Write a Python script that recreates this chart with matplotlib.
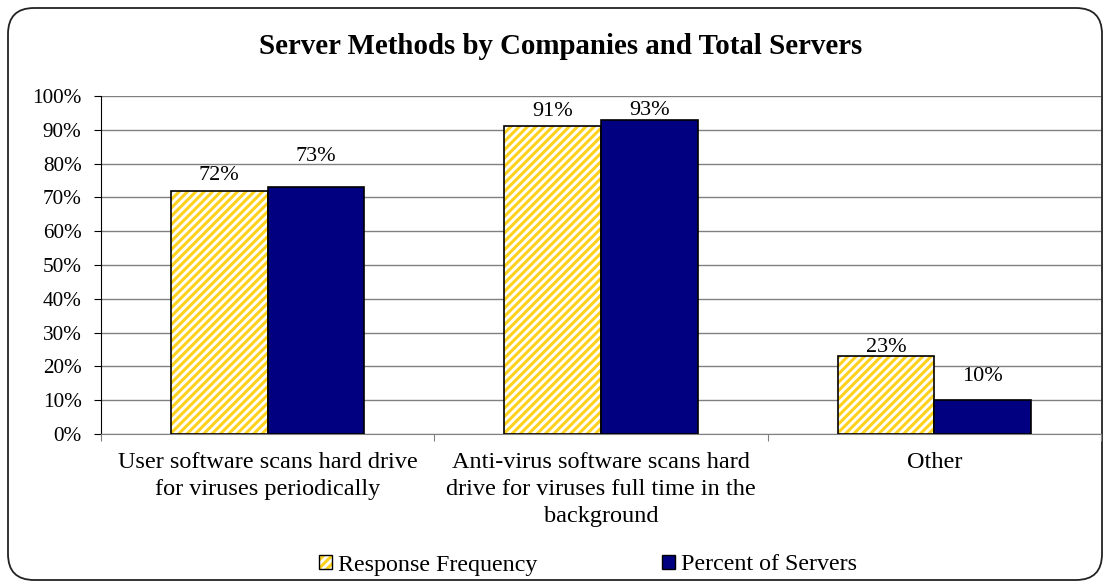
import matplotlib
matplotlib.use("Agg")
import matplotlib.pyplot as plt
import numpy as np
from matplotlib.patches import FancyBboxPatch, Patch
from matplotlib.transforms import IdentityTransform

categories = [
    "User software scans hard drive\nfor viruses periodically",
    "Anti-virus software scans hard\ndrive for viruses full time in the\nbackground",
    "Other",
]
response_freq = [72, 91, 23]
percent_servers = [73, 93, 10]
series_names = ["Response Frequency", "Percent of Servers"]
y_ticks = list(range(0, 101, 10))

# how far above each bar top its value label sits (percentage points)
freq_label_lift = [4.6, 4.3, 2.7]
servers_label_lift = [9.0, 2.6, 6.9]

plt.rcParams["font.family"] = ["Liberation Serif", "DejaVu Serif"]
plt.rcParams["hatch.linewidth"] = 2.0

GOLD = "#FFD21F"
NAVY = "#000080"

fig = plt.figure(figsize=(11.1, 5.87), dpi=100)

# rounded outer frame, drawn in pixel coordinates behind everything
frame = FancyBboxPatch((8, 7), 1094, 572,
                       boxstyle="round,pad=0,rounding_size=26",
                       transform=IdentityTransform(), facecolor="none",
                       edgecolor="#222222", linewidth=1.3, zorder=-1)
fig.patches.append(frame)

ax = fig.add_axes([101 / 1110, 153 / 587, 1000 / 1110, 338 / 587])
ax.set_facecolor("none")

x = np.arange(len(categories))
w = 0.29

# yellow bars with white diagonal stripes, then black outlines on top
ax.bar(x - w / 2, response_freq, w, color=GOLD, edgecolor="white",
       hatch="////", linewidth=0, zorder=2)
ax.bar(x - w / 2, response_freq, w, fill=False, edgecolor="black",
       linewidth=1.2, zorder=3)
ax.bar(x + w / 2, percent_servers, w, color=NAVY, edgecolor="black",
       linewidth=1.2, zorder=3)

for xi, v, lift in zip(x - w / 2, response_freq, freq_label_lift):
    ax.text(xi, v + lift, f"{v}%", ha="center", va="center", fontsize=16, zorder=4)
for xi, v, lift in zip(x + w / 2, percent_servers, servers_label_lift):
    ax.text(xi, v + lift, f"{v}%", ha="center", va="center", fontsize=16, zorder=4)

ax.set_xlim(-0.5, 2.5)
ax.set_ylim(0, 100)
ax.set_yticks(y_ticks)
ax.set_yticklabels([f"{t}%" for t in y_ticks], fontsize=15.3)
ax.yaxis.grid(True, color="#808080", linewidth=1.0, zorder=0)
ax.set_axisbelow(True)

# category separators as major ticks, names as minor tick labels
ax.set_xticks([-0.5, 0.5, 1.5, 2.5])
ax.set_xticklabels([])
ax.set_xticks(x, minor=True)
ax.set_xticklabels(categories, minor=True, fontsize=17.5, linespacing=1.38)
ax.tick_params(axis="x", which="major", length=5, color="#808080")
ax.tick_params(axis="x", which="minor", length=0, pad=13)
ax.tick_params(axis="y", length=5, pad=9)

for side in ("top", "right"):
    ax.spines[side].set_visible(False)
ax.spines["bottom"].set_color("#808080")
ax.spines["left"].set_color("black")

fig.text(561 / 1110, 1 - 46 / 587, "Server Methods by Companies and Total Servers",
         ha="center", va="center", fontsize=20.8, fontweight="bold")

# legend handles: striped fill with a black outline drawn over it
striped = (Patch(facecolor=GOLD, edgecolor="white", hatch="////", linewidth=0),
           Patch(facecolor="none", edgecolor="black", linewidth=1.0))
solid = Patch(facecolor=NAVY, edgecolor="black", linewidth=1.0)
fig.legend([striped, solid], series_names, loc="center",
           bbox_to_anchor=(588 / 1110, 1 - 565 / 587),
           ncol=2, frameon=False, fontsize=17.3, handlelength=0.55, handleheight=0.55,
           handletextpad=0.25, columnspacing=5.2, borderpad=0)

fig.savefig("out.png", dpi=100)
